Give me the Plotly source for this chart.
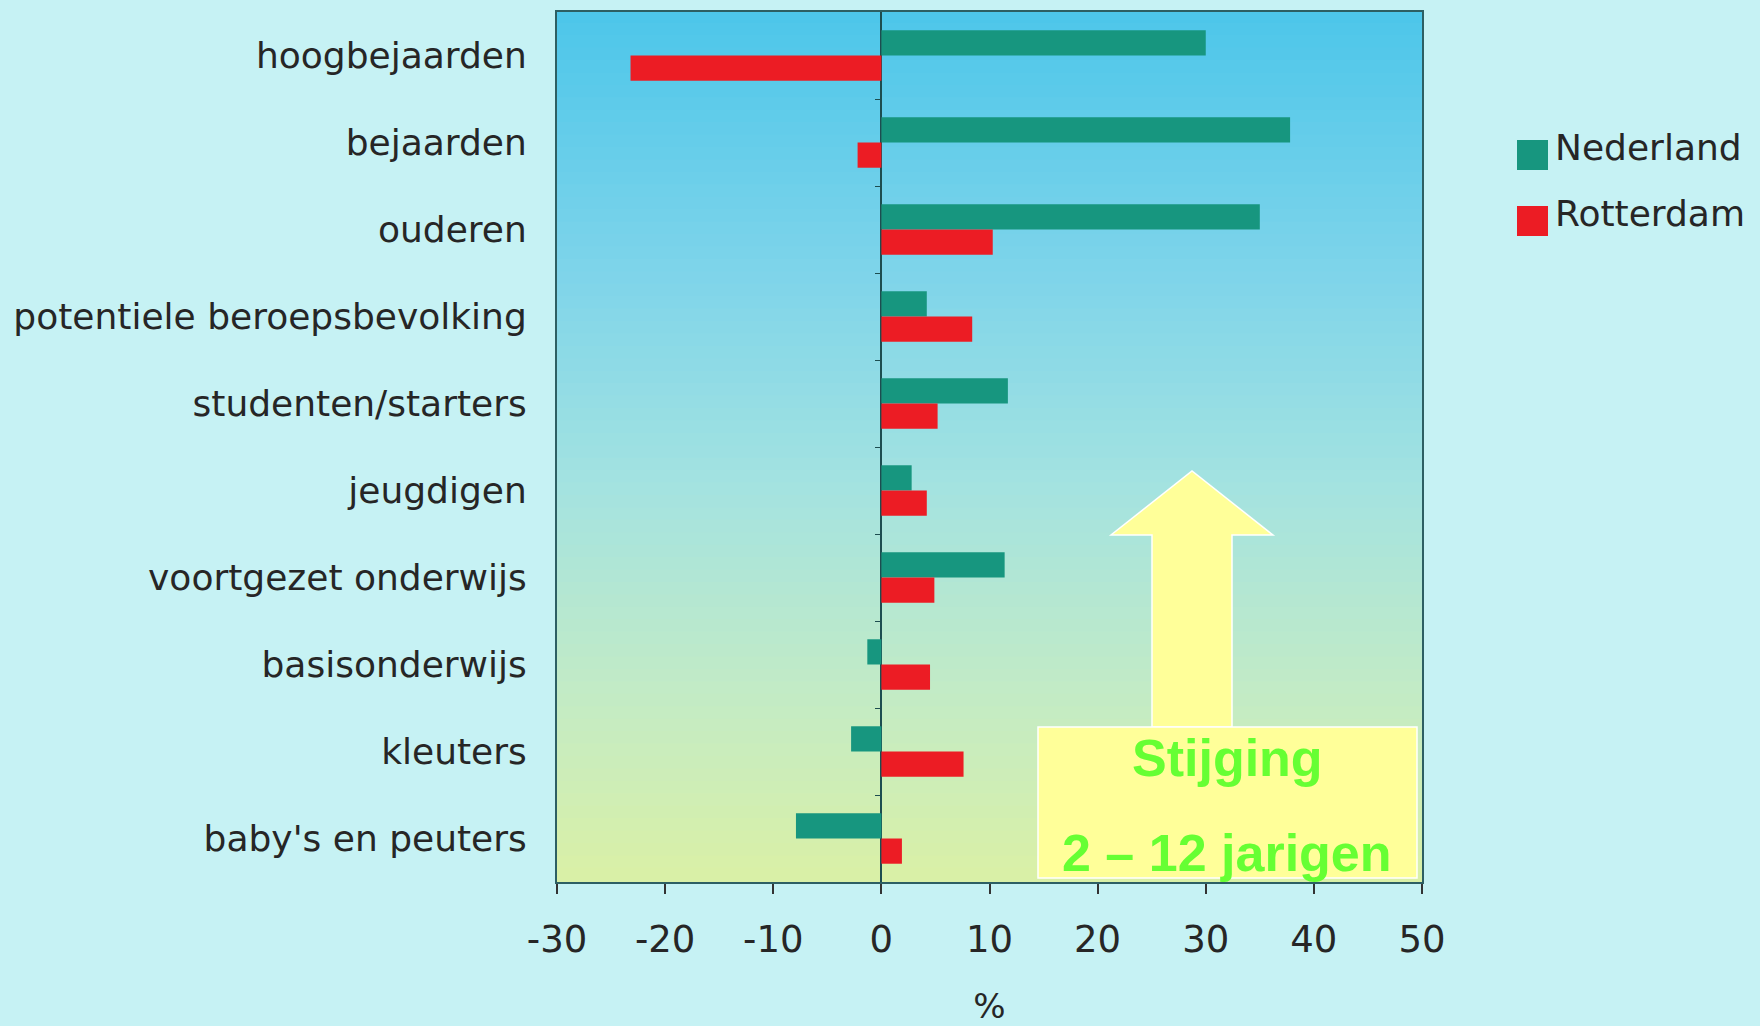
import plotly.graph_objects as go

# DATA -------------------------------------------------------------
categories = ["hoogbejaarden", "bejaarden", "ouderen", "potentiele beroepsbevolking",
              "studenten/starters", "jeugdigen", "voortgezet onderwijs",
              "basisonderwijs", "kleuters", "baby's en peuters"]
nederland = [30.0, 37.8, 35.0, 4.2, 11.7, 2.8, 11.4, -1.3, -2.8, -7.9]
rotterdam = [-23.2, -2.2, 10.3, 8.4, 5.2, 4.2, 4.9, 4.5, 7.6, 1.9]
x_ticks = [-30, -20, -10, 0, 10, 20, 30, 40, 50]
x_tick_labels = ["-30", "-20", "-10", "0", "10", "20", "30", "40", "50"]
series_names = ["Nederland", "Rotterdam"]

# STYLE ------------------------------------------------------------
W, H = 1760, 1026
L, T, R, B = 557, 12, 1422, 882
teal, red = "#17967f", "#ec1c24"
page_bg = "#c6f2f4"
text_col = "#262626"
label_font = "DejaVu Sans"

def px(p):
    return (p - L) / (R - L)

def py(p):
    return 1 - (p - T) / (B - T)

fig = go.Figure()
fig.add_trace(go.Bar(y=categories, x=nederland, name=series_names[0], orientation="h",
                     marker=dict(color=teal, line=dict(width=0)), showlegend=False))
fig.add_trace(go.Bar(y=categories, x=rotterdam, name=series_names[1], orientation="h",
                     marker=dict(color=red, line=dict(width=0)), showlegend=False))
# helper trace so the small category ticks on the zero line get drawn
fig.add_trace(go.Scatter(x=[None], y=[None], yaxis="y2", showlegend=False, hoverinfo="skip"))

# plot background gradient (blue top -> yellow-green bottom)
stops = [(0.0, (76, 198, 234)), (0.3, (126, 212, 234)), (0.55, (164, 227, 224)),
         (0.78, (194, 235, 198)), (1.0, (218, 240, 166))]

def grad(f):
    for (f0, c0), (f1, c1) in zip(stops[:-1], stops[1:]):
        if f0 <= f <= f1:
            t = (f - f0) / (f1 - f0)
            return "rgb(%d,%d,%d)" % tuple(round(a + (b - a) * t) for a, b in zip(c0, c1))
    return "rgb(%d,%d,%d)" % stops[-1][1]

n_strips = 70
shapes = []
for i in range(n_strips):
    shapes.append(dict(type="rect", xref="x domain", yref="y domain", layer="below",
                       x0=0, x1=1, y0=1 - (i + 1) / n_strips, y1=1 - i / n_strips + 0.002,
                       fillcolor=grad((i + 0.5) / n_strips), line=dict(width=0)))

# yellow arrow + box
arrow = [(1152, 727), (1152, 535), (1111, 535), (1192, 471), (1273, 535), (1232, 535), (1232, 727)]
path = "M " + " L ".join("%f,%f" % (px(a), py(b)) for a, b in arrow) + " Z"
shapes.append(dict(type="path", xref="paper", yref="paper", path=path,
                   fillcolor="#ffff99", line=dict(color="white", width=1.5)))
shapes.append(dict(type="rect", xref="paper", yref="paper",
                   x0=px(1038), x1=px(1417), y0=py(878), y1=py(727),
                   fillcolor="#ffff99", line=dict(color="white", width=1.5)))

# custom legend squares
for k, col in enumerate([teal, red]):
    yc = 155 + 66 * k
    shapes.append(dict(type="rect", xref="paper", yref="paper",
                       x0=px(1517), x1=px(1548), y0=py(yc + 15), y1=py(yc - 15),
                       fillcolor=col, line=dict(width=0)))

green_font = dict(family="Liberation Sans, Arial", size=52, color="#66ff33", weight="bold")
annotations = [
    dict(text="Stijging", x=px(1227), y=py(758), xref="paper", yref="paper", showarrow=False,
         xanchor="center", yanchor="middle", font=green_font),
    dict(text="2 – 12 jarigen", x=px(1227), y=py(853), xref="paper", yref="paper", showarrow=False,
         xanchor="center", yanchor="middle", font=green_font),
]
for k, name in enumerate(series_names):
    annotations.append(dict(text=name, x=px(1553), y=py(148 + 66 * k), xref="paper", yref="paper",
                            xanchor="left", yanchor="middle", showarrow=False,
                            font=dict(family=label_font, size=36, color=text_col)))

n = len(categories)
fig.update_layout(
    width=W, height=H,
    margin=dict(l=L, r=W - R, t=T, b=H - B, autoexpand=False),
    paper_bgcolor=page_bg, plot_bgcolor="#a8e2e0",
    barmode="group", bargap=0.42, bargroupgap=0,
    shapes=shapes, annotations=annotations,
    xaxis=dict(range=[-30, 50], tickvals=x_ticks, ticktext=x_tick_labels, ticks="outside",
               ticklen=10, tickwidth=2, tickcolor="#333", showgrid=False, zeroline=True,
               zerolinecolor="#1d4d50", zerolinewidth=2, showline=True, linecolor="#2d5f63",
               linewidth=2, mirror=True, ticklabelstandoff=14, automargin=False,
               tickfont=dict(family=label_font, size=37, color=text_col),
               title=dict(text="%", standoff=38, font=dict(family=label_font, size=34, color=text_col))),
    yaxis=dict(autorange="reversed", showgrid=False, showline=True, linecolor="#2d5f63",
               linewidth=2, mirror=True, ticks="", ticklabelstandoff=21, automargin=False,
               tickfont=dict(family=label_font, size=36, color=text_col)),
    yaxis2=dict(overlaying="y", anchor="free", position=30 / 80, range=[-0.5, n - 0.5],
                tickvals=[i + 0.5 for i in range(n - 1)], ticks="outside", ticklen=6,
                tickcolor="#1d4d50", showticklabels=False, showgrid=False, zeroline=False,
                showline=False, automargin=False),
)

fig.write_html("out.html", config={"displayModeBar": False},
               post_script="document.body.style.margin='0';document.body.style.overflow='hidden';")
